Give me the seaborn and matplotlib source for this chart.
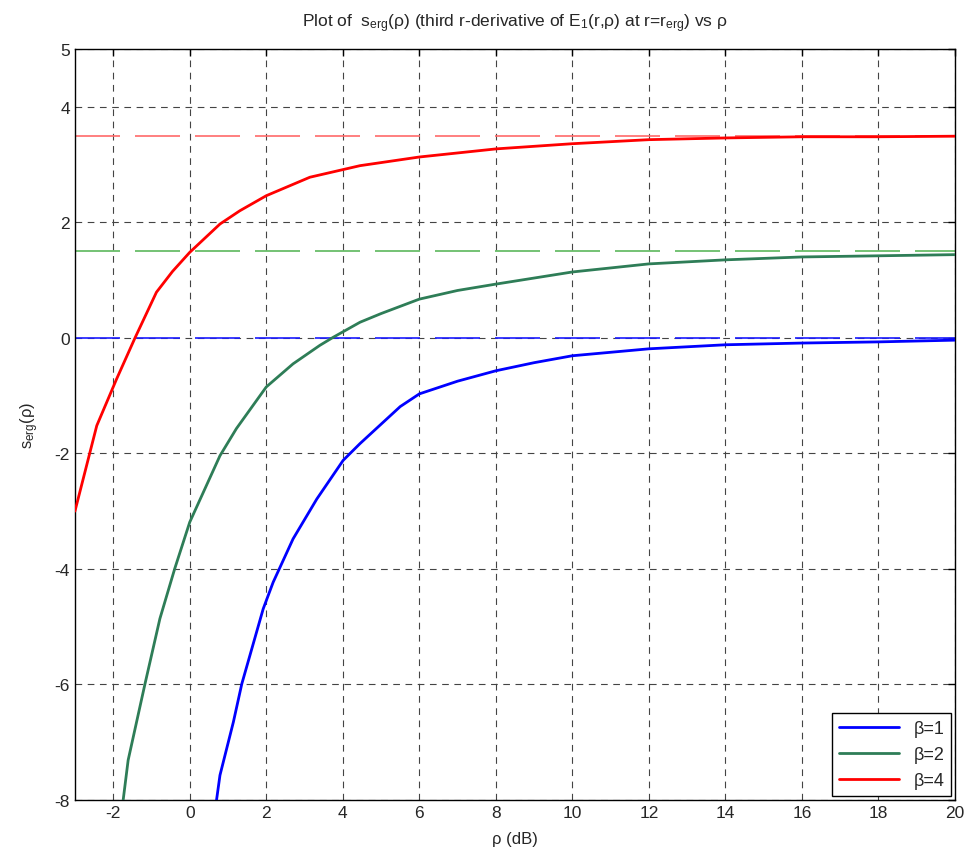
import numpy as np
import pandas as pd
import seaborn as sns
from matplotlib import pyplot as plt

sns.set_style("white")
plt.rcParams['font.family'] = ['Liberation Sans', 'DejaVu Sans']
plt.rcParams['mathtext.fontset'] = 'custom'
plt.rcParams['mathtext.rm'] = 'Liberation Sans'
plt.rcParams['mathtext.it'] = 'Liberation Sans'
plt.rcParams['axes.unicode_minus'] = False

# beta = 1
rho_b1 = [0.70, 0.79, 1.14, 1.36, 1.92, 2.18, 2.70, 3.32, 4.01, 4.45, 5.5, 6, 7, 8, 9, 10, 12, 14, 16, 18, 20]
s_b1 = [-8.0, -7.57, -6.65, -5.99, -4.69, -4.23, -3.48, -2.79, -2.12, -1.83, -1.19, -0.97, -0.75, -0.57,
        -0.43, -0.31, -0.19, -0.12, -0.09, -0.07, -0.04]
# beta = 2
rho_b2 = [-1.74, -1.61, -1.17, -0.78, -0.39, 0, 0.79, 1.22, 2.0, 2.70, 3.40, 3.75, 4.45, 5, 6, 7, 8,
          10, 12, 14, 16, 18, 20]
s_b2 = [-8.0, -7.31, -5.99, -4.86, -3.99, -3.19, -2.04, -1.57, -0.85, -0.45, -0.13, 0.01, 0.27, 0.42,
        0.67, 0.82, 0.93, 1.14, 1.28, 1.35, 1.40, 1.42, 1.44]
# beta = 4
rho_b4 = [-3.0, -2.43, -1.91, -1.43, -0.87, -0.45, 0, 0.79, 1.31, 2.0, 3.14, 4.45, 6, 8, 10, 12, 14, 16, 18, 20]
s_b4 = [-3.0, -1.52, -0.71, 0.0, 0.79, 1.15, 1.48, 1.97, 2.20, 2.46, 2.78, 2.98, 3.13, 3.27, 3.36, 3.43,
        3.46, 3.48, 3.48, 3.49]

labels = ['β=1', 'β=2', 'β=4']
limits = [0.0, 1.5, 3.5]
colors = ['#0000ff', '#2e7d57', '#ff0000']
limit_colors = ['#1a1aff', '#5cb85c', '#ff6a6a']

df = pd.concat([
    pd.DataFrame({'rho': rho_b1, 's': s_b1, 'beta': labels[0]}),
    pd.DataFrame({'rho': rho_b2, 's': s_b2, 'beta': labels[1]}),
    pd.DataFrame({'rho': rho_b4, 's': s_b4, 'beta': labels[2]}),
])

fig = plt.figure(figsize=(9.76, 8.54), dpi=100)
ax = fig.add_axes([0.0768, 0.062, 0.9017, 0.8795])

ax.grid(True, color='#444444', linestyle=(0, (6, 5)), linewidth=0.8)
for lim, c in zip(limits, limit_colors):
    ax.axhline(lim, color=c, linewidth=1.2, linestyle=(0, (27, 9)), zorder=2)

sns.lineplot(data=df, x='rho', y='s', hue='beta', palette=dict(zip(labels, colors)),
             linewidth=2, ax=ax, sort=False, zorder=3)

ax.set_xlim(-3, 20)
ax.set_ylim(-8, 5)
ax.set_xticks(np.arange(-2, 21, 2))
ax.set_yticks([-8, -6, -4, -2, 0, 2, 4, 5])
ax.tick_params(direction='in', top=True, right=True, length=5, width=1, labelsize=12.5, color='black')
for sp in ax.spines.values():
    sp.set_color('black')
    sp.set_linewidth(1)

ax.set_xlabel('ρ (dB)', fontsize=12, labelpad=8)
ax.set_ylabel(r'$\mathregular{s_{erg}}$(ρ)', fontsize=12, labelpad=10)
ax.set_title(r'Plot of  $\mathregular{s_{erg}}$(ρ) (third r-derivative of $\mathregular{E_1}$(r,ρ) at r=$\mathregular{r_{erg}}$) vs ρ',
             fontsize=12.5, pad=16)

leg = ax.legend(loc='lower right', fontsize=13, fancybox=False, edgecolor='black', framealpha=1,
                handlelength=3.3, borderaxespad=0.2)
leg.get_frame().set_linewidth(1)

fig.savefig('out.png', dpi=100)
